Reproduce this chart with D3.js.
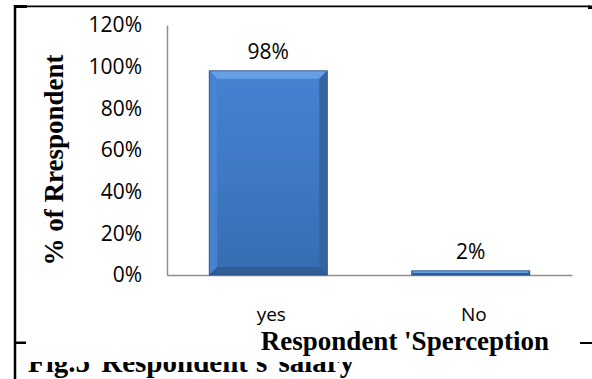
<!DOCTYPE html>
<html>
<head>
<meta charset="utf-8">
<script src="https://cdn.jsdelivr.net/npm/d3@7"></script>
<style>
body { margin:0; background:#fff; }
svg { display:block; }
</style>
</head>
<body>
<svg class="chart" width="592" height="379"></svg>
<script>
// data
var categories = ["yes", "No"];
var values = [0.98, 0.02];
var yTicks = [0, 0.2, 0.4, 0.6, 0.8, 1.0, 1.2];
var yTitle = "% of Rrespondent";
var xTitle = "Respondent 'Sperception";
var caption = "Fig.5  Respondent's  salary";

var svg = d3.select(".chart");

var scaleX = d3.scaleBand().domain(categories).range([167, 572])
	.paddingInner(0.417).paddingOuter(0.2085);
var scaleY = d3.scaleLinear().domain([0, 1.2]).range([275, 25]);

// caption of the page behind the chart box (top of it gets covered)
svg.append("text")
	.attr("x", 28).attr("y", 372)
	.style("font-family", "'Liberation Serif', 'Times New Roman', serif")
	.style("font-weight", "bold")
	.style("font-size", "29px")
	.style("word-spacing", "4px")
	.text(caption);

// white chart box
svg.append("rect")
	.attr("x", 16).attr("y", 8)
	.attr("width", 576).attr("height", 354)
	.style("fill", "#fff");

// page frame bits
svg.append("line").attr("x1", 15).attr("y1", 5).attr("x2", 15).attr("y2", 379)
	.style("stroke", "#000").style("stroke-width", 2.5);
svg.append("line").attr("x1", 15).attr("y1", 6.3).attr("x2", 590).attr("y2", 6.3)
	.style("stroke", "#000").style("stroke-width", 1.8);
svg.append("rect").attr("x", 14).attr("y", 5).attr("width", 13).attr("height", 3).style("fill", "#000");
svg.append("rect").attr("x", 14).attr("y", 341.5).attr("width", 12).attr("height", 2.5).style("fill", "#000");
svg.append("rect").attr("x", 588).attr("y", 5.5).attr("width", 4).attr("height", 3.5).style("fill", "#000");
svg.append("rect").attr("x", 580).attr("y", 342).attr("width", 12).attr("height", 2).style("fill", "#000");

// gradient for bars
var defs = svg.append("defs");
var grad = defs.append("linearGradient").attr("id", "barGrad")
	.attr("x1", 0).attr("y1", 0).attr("x2", 0).attr("y2", 1);
grad.append("stop").attr("offset", "0%").attr("stop-color", "#4582d1");
grad.append("stop").attr("offset", "50%").attr("stop-color", "#3f79c4");
grad.append("stop").attr("offset", "100%").attr("stop-color", "#376cb0");

// axes
var yAxis = d3.axisLeft(scaleY).tickValues(yTicks).tickSize(0).tickSizeOuter(0)
	.tickPadding(25).tickFormat(d3.format(".0%"));
var xAxis = d3.axisBottom(scaleX).tickSize(0).tickSizeOuter(0).tickPadding(33);

var gy = svg.append("g").attr("class", "axis").attr("transform", "translate(167,0)").call(yAxis);
var gx = svg.append("g").attr("class", "axis").attr("transform", "translate(0,275)").call(xAxis);

svg.selectAll(".axis path").style("stroke", "#8e8e8e").style("stroke-width", 1.5);
svg.selectAll(".axis text")
	.style("font-family", "'Open Sans', sans-serif")
	.style("fill", "#000");
gy.selectAll("text").style("font-size", "21px");
gx.selectAll("text").style("font-size", "19px").attr("dx", 3);

// bars with bevel
var data = categories.map(function(c, i){ return {cat: c, val: values[i]}; });

var bars = svg.selectAll(".bar").data(data).enter().append("g").attr("class", "bar");

bars.each(function(d){
	var g = d3.select(this);
	var x0 = scaleX(d.cat), w = scaleX.bandwidth();
	var y0 = scaleY(d.val), h = scaleY(0) - y0;
	var b = Math.min(8, h / 2);
	g.append("rect").attr("x", x0).attr("y", y0).attr("width", w).attr("height", h)
		.style("fill", "url(#barGrad)");
	g.append("polygon").attr("points", [[x0,y0],[x0+w,y0],[x0+w-b,y0+b],[x0+b,y0+b]].join(" "))
		.style("fill", "#65a0e6");
	g.append("polygon").attr("points", [[x0,y0],[x0+b,y0+b],[x0+b,y0+h-b],[x0,y0+h]].join(" "))
		.style("fill", "#4683d1");
	g.append("polygon").attr("points", [[x0+w,y0],[x0+w,y0+h],[x0+w-b,y0+h-b],[x0+w-b,y0+b]].join(" "))
		.style("fill", "#34649f");
	g.append("polygon").attr("points", [[x0,y0+h],[x0+w,y0+h],[x0+w-b,y0+h-b],[x0+b,y0+h-b]].join(" "))
		.style("fill", "#305d95");
	g.append("rect").attr("x", x0).attr("y", y0).attr("width", w).attr("height", h)
		.style("fill", "none").style("stroke", "#2a4f80").style("stroke-width", 0.8);
});

// data labels
svg.selectAll(".lbl").data(data).enter().append("text")
	.attr("class", "lbl")
	.attr("x", function(d){ return scaleX(d.cat) + scaleX.bandwidth() / 2; })
	.attr("y", function(d){ return scaleY(d.val) - 12; })
	.attr("text-anchor", "middle")
	.style("font-family", "'Open Sans', sans-serif")
	.style("font-size", "21px")
	.text(function(d){ return d3.format(".0%")(d.val); });

// titles
svg.append("text")
	.attr("transform", "translate(63,160) rotate(-90)")
	.attr("text-anchor", "middle")
	.style("font-family", "'Liberation Serif', 'Times New Roman', serif")
	.style("font-weight", "bold")
	.style("font-size", "27px")
	.text(yTitle);

svg.append("text")
	.attr("x", 405).attr("y", 350)
	.attr("text-anchor", "middle")
	.style("font-family", "'Liberation Serif', 'Times New Roman', serif")
	.style("font-weight", "bold")
	.style("font-size", "27px")
	.text(xTitle);
</script>
</body>
</html>
